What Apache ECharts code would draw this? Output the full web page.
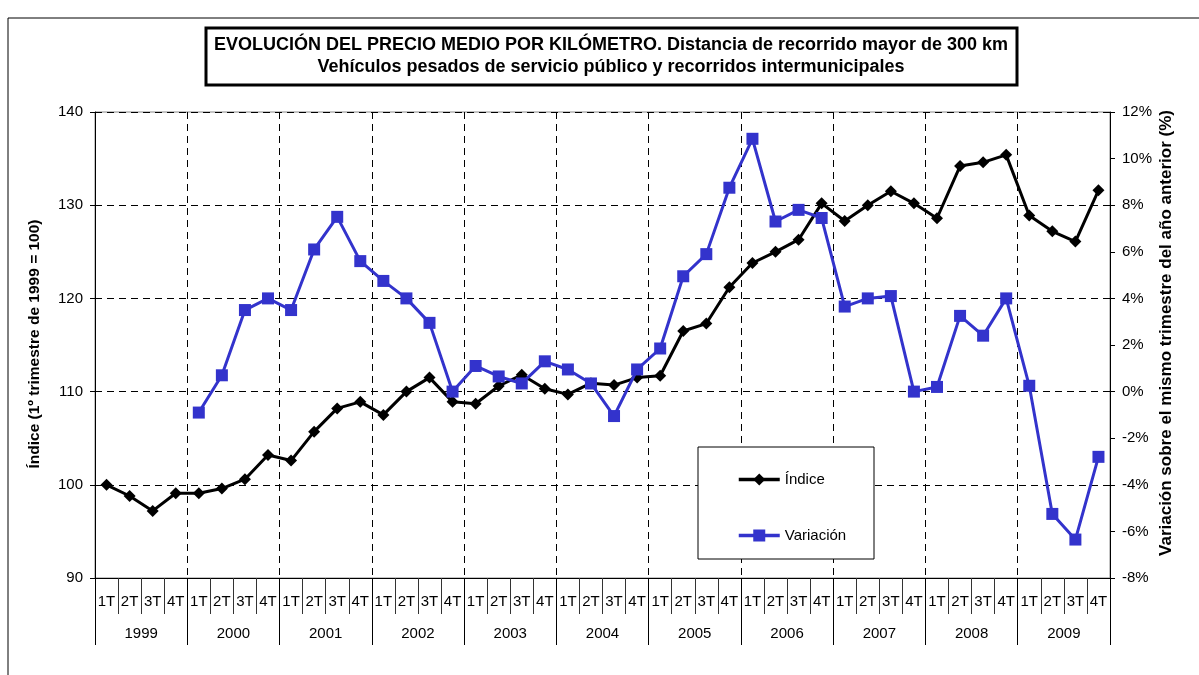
<!DOCTYPE html>
<html><head><meta charset="utf-8">
<script src="https://cdn.jsdelivr.net/npm/echarts@6/dist/echarts.min.js"></script>
<style>html,body{margin:0;padding:0;background:#fff}#c{width:1199px;height:675px}</style>
</head><body><div id="c"></div>
<script>
const years = ['1999','2000','2001','2002','2003','2004','2005','2006','2007','2008','2009'];
const quarters = ['1T','2T','3T','4T'];
const indice = [100.0,98.8,97.2,99.1, 99.1,99.6,100.6,103.2, 102.6,105.7,108.2,108.9, 107.5,110.0,111.5,108.9, 108.7,110.6,111.8,110.3, 109.7,110.9,110.7,111.5, 111.7,116.5,117.3,121.2, 123.8,125.0,126.3,130.2, 128.3,130.0,131.5,130.2, 128.6,134.2,134.6,135.4, 128.9,127.2,126.1,131.6];
const variacion = [null,null,null,null, -0.9,0.7,3.5,4.0, 3.5,6.1,7.5,5.6, 4.75,4.0,2.95,0.0, 1.1,0.65,0.35,1.3, 0.95,0.35,-1.05,0.95, 1.85,4.95,5.9,8.75, 10.85,7.3,7.8,7.45, 3.65,4.0,4.1,0.0, 0.2,3.25,2.4,4.0, 0.25,-5.25,-6.35,-2.8];
const catQ = [];
years.forEach(y => quarters.forEach(q => catQ.push(y + ' ' + q)));

const chart = echarts.init(document.getElementById('c'), null, {renderer:'canvas'});
const FONT = '"Liberation Sans", Arial, sans-serif';
const dash = {color:'#000', width:1, type:[7,5]};
chart.setOption({
  animation:false,
  textStyle:{fontFamily:FONT},
  graphic:[
    {type:'rect', shape:{x:8,y:18,width:1300,height:800}, style:{fill:'none', stroke:'#000', lineWidth:1}, z:-1},
    {type:'rect', shape:{x:206,y:28,width:811,height:57}, style:{fill:'#fff', stroke:'#000', lineWidth:3}},
    {type:'text', x:611, y:45, style:{text:'EVOLUCIÓN DEL PRECIO MEDIO POR KILÓMETRO. Distancia de recorrido mayor de 300 km', font:'bold 18px '+FONT, fill:'#000', align:'center', verticalAlign:'middle'}},
    {type:'text', x:611, y:67, style:{text:'Vehículos pesados de servicio público y recorridos intermunicipales', font:'bold 18px '+FONT, fill:'#000', align:'center', verticalAlign:'middle'}},
    {type:'text', x:35, y:344, rotation:Math.PI/2, style:{text:'Índice (1º trimestre de 1999 = 100)', font:'bold 15.5px '+FONT, fill:'#000', align:'center', verticalAlign:'middle'}},
    {type:'text', x:1166, y:333, rotation:Math.PI/2, style:{text:'Variación sobre el mismo trimestre del año anterior (%)', font:'bold 17px '+FONT, fill:'#000', align:'center', verticalAlign:'middle'}},
    {type:'rect', shape:{x:698,y:447,width:176,height:112}, style:{fill:'#fff', stroke:'#000', lineWidth:1}, z:5}
  ],
  legend:{
    orient:'vertical', left:732, top:467, itemWidth:41, itemHeight:15, itemGap:41, z:10,
    lineStyle:{width:3.5},
    textStyle:{fontSize:15, color:'#000', fontFamily:FONT},
    data:['Índice','Variación']
  },
  grid:{left:95, right:89, top:112, bottom:97, show:true, borderColor:'#888', borderWidth:1},
  xAxis:[
    {type:'category', data:catQ, position:'bottom', boundaryGap:true,
     axisLine:{onZero:false, lineStyle:{color:'#000', width:1}},
     axisTick:{show:true, interval:0, length:36, lineStyle:{color:'#333'}},
     axisLabel:{interval:0, margin:16, fontSize:15, color:'#000', formatter:v => v.split(' ')[1]},
     splitLine:{show:false}},
    {type:'category', data:years, position:'bottom', boundaryGap:true,
     axisLine:{show:false, onZero:false},
     axisTick:{show:true, interval:0, length:67, lineStyle:{color:'#000'}},
     axisLabel:{interval:0, margin:48, fontSize:15, color:'#000'},
     splitLine:{show:true, interval:0, lineStyle:dash}}
  ],
  yAxis:[
    {type:'value', min:90, max:140, interval:10, position:'left',
     axisLine:{show:true, lineStyle:{color:'#000'}},
     axisTick:{show:true, length:5, lineStyle:{color:'#000'}},
     axisLabel:{fontSize:15, color:'#000', margin:12},
     splitLine:{show:true, lineStyle:dash}},
    {type:'value', min:-8, max:12, interval:2, position:'right',
     axisLine:{show:true, lineStyle:{color:'#000'}},
     axisTick:{show:true, length:5, lineStyle:{color:'#000'}},
     axisLabel:{fontSize:15, color:'#000', margin:12, formatter:v => v + '%'},
     splitLine:{show:false}}
  ],
  series:[
    {name:'Índice', type:'line', xAxisIndex:0, yAxisIndex:0, data:indice,
     symbol:'diamond', symbolSize:12, lineStyle:{color:'#000', width:3}, itemStyle:{color:'#000'}, z:3},
    {name:'Variación', type:'line', xAxisIndex:0, yAxisIndex:1, data:variacion,
     symbol:'rect', symbolSize:12, lineStyle:{color:'#3333CC', width:3}, itemStyle:{color:'#3333CC'}, z:4}
  ]
});
</script></body></html>
